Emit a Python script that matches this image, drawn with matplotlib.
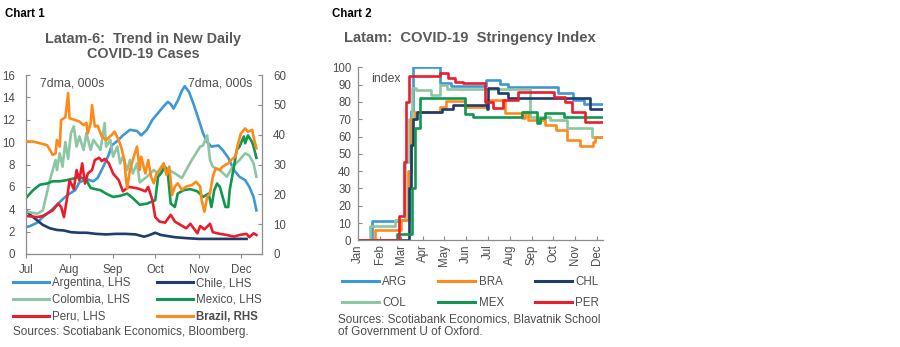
import matplotlib
matplotlib.use("Agg")
import matplotlib.pyplot as plt
from matplotlib.lines import Line2D

plt.rcParams['font.family'] = ['Liberation Sans', 'DejaVu Sans']

# ---------------- Chart 1 data (days since 1 Jul 2020, 7dma, 000s) ----------------
month_ticks_1 = [0, 31, 62, 92, 123, 153]
month_labels_1 = ["Jul", "Aug", "Sep", "Oct", "Nov", "Dec"]

arg_days = [0, 3, 8, 12, 17, 22, 27, 31, 35, 38, 43, 48, 51, 55, 59, 61, 65, 69, 74, 79,
            82, 86, 90, 94, 98, 101, 103, 105, 108, 111, 113, 116, 119, 123, 126, 129, 132,
            137, 140, 144, 148, 152, 156, 159, 162, 164]
arg_vals = [2.4, 2.5, 2.8, 3.3, 3.8, 4.4, 5.0, 5.4, 5.7, 6.4, 6.7, 6.5, 6.8, 7.8, 8.9, 9.7, 10.1, 10.6, 11.1, 11.0,
            10.6, 11.1, 12.0, 12.6, 13.2, 13.6, 13.4, 13.0, 13.7, 14.6, 15.0, 14.5, 13.5, 12.0, 10.8, 10.0, 9.6,
            9.7, 9.3, 8.6, 7.5, 6.9, 6.6, 6.0, 5.1, 3.9]

chl_days = [0, 3, 8, 12, 17, 22, 27, 32, 38, 43, 50, 57, 64, 71, 78, 84, 87, 90, 92, 96, 101, 106, 111, 116, 123, 157]
chl_vals = [3.9, 3.5, 3.0, 2.6, 2.3, 2.15, 2.1, 1.95, 1.9, 1.9, 1.8, 1.75, 1.8, 1.8, 1.75, 1.55, 1.65, 1.8, 1.9,
            1.7, 1.6, 1.5, 1.45, 1.4, 1.35, 1.35]

col_days = [0, 8, 12, 17, 19, 21, 22, 24, 26, 28, 30, 32, 34, 36, 38, 41, 43, 46, 48, 53, 56, 57, 60, 62, 65,
            67, 69, 72, 74, 76, 79, 81, 86, 91, 94, 98, 102, 106, 111, 114, 118, 121, 124, 126, 129, 131,
            133, 138, 143, 147, 152, 156, 159, 162, 164]
col_vals = [3.8, 3.6, 3.9, 6.6, 7.5, 8.4, 7.5, 9.0, 7.8, 10.0, 8.5, 10.8, 11.4, 9.6, 10.5, 9.3, 10.8, 9.3, 10.2,
            9.3, 11.7, 9.6, 10.2, 8.7, 9.6, 8.1, 8.7, 7.5, 8.4, 7.2, 8.1, 6.4, 6.9, 7.5, 7.2, 7.8, 7.5, 7.2,
            6.8, 7.5, 8.4, 9.0, 9.6, 9.7, 10.6, 8.4, 7.8, 7.5, 6.9, 7.8, 8.4, 9.0, 8.8, 8.1, 6.9]

mex_days = [0, 5, 10, 15, 19, 24, 29, 34, 38, 43, 46, 53, 57, 62, 67, 72, 76, 81, 86, 90, 92, 94, 96, 99, 101,
            103, 106, 108, 112, 117, 122, 126, 130, 132, 134, 136, 138, 140, 142, 144, 145, 148, 150, 152,
            155, 156, 158, 161, 162, 164]
mex_vals = [5.0, 5.7, 6.2, 6.3, 6.5, 6.5, 6.6, 6.75, 6.9, 6.6, 5.9, 5.7, 5.4, 5.1, 5.2, 5.4, 5.0, 4.4, 4.5, 4.7,
            4.8, 6.9, 7.2, 7.8, 7.2, 4.5, 4.2, 5.4, 5.7, 5.8, 5.6, 5.1, 5.4, 4.2, 5.7, 6.3, 6.0, 5.1, 4.2,
            4.2, 5.7, 7.8, 9.3, 9.6, 10.5, 9.9, 10.6, 10.0, 9.6, 8.6]

per_days = [0, 8, 12, 19, 23, 25, 27, 29, 31, 34, 36, 38, 40, 42, 44, 47, 49, 52, 54, 56, 59, 62, 66, 69, 73,
            78, 81, 85, 87, 90, 92, 95, 99, 103, 106, 110, 114, 117, 122, 124, 127, 131, 133, 138, 143,
            148, 152, 157, 159, 162, 164]
per_vals = [3.4, 3.3, 3.4, 3.9, 4.5, 4.2, 3.3, 4.8, 6.6, 5.8, 7.5, 6.6, 8.1, 6.3, 7.2, 7.5, 8.4, 8.6, 8.3, 8.5,
            8.1, 7.2, 6.6, 5.6, 6.0, 5.9, 5.8, 5.6, 6.0, 4.8, 3.3, 2.9, 2.8, 3.5, 2.9, 2.6, 2.3, 2.7, 1.85,
            2.5, 2.2, 2.7, 1.95, 1.8, 1.7, 1.55, 1.7, 1.8, 1.5, 1.85, 1.7]

bra_days = [0, 5, 10, 15, 17, 19, 21, 22, 24, 25, 28, 30, 31, 35, 38, 41, 43, 44, 46, 47, 49, 51, 54, 57, 61,
            63, 66, 68, 70, 71, 72, 74, 76, 79, 81, 82, 85, 87, 89, 91, 93, 95, 98, 100, 102, 104, 106,
            108, 111, 114, 118, 121, 124, 125, 127, 129, 131, 133, 135, 138, 140, 144, 146, 149, 151,
            153, 156, 158, 161, 162, 164]
bra_vals = [37.7, 37.7, 37.1, 36.5, 34.9, 33.2, 33.7, 38.2, 36.0, 44.9, 45.8, 53.9, 45.5, 44.9, 44.4, 43.2,
            44.0, 40.4, 43.8, 49.9, 42.7, 43.0, 39.3, 38.2, 39.9, 41.0, 38.2, 35.4, 31.5, 25.9, 22.0, 28.2,
            31.5, 36.0, 28.2, 32.6, 27.0, 31.5, 25.9, 23.7, 27.0, 28.2, 30.4, 26.5, 29.3, 19.8, 22.6, 23.7,
            21.5, 22.6, 23.1, 24.2, 22.6, 18.1, 14.2, 19.2, 20.3, 25.9, 28.7, 28.2, 29.3, 30.4, 31.5, 32.6,
            37.1, 40.4, 42.1, 41.0, 41.6, 39.3, 35.4]

# ---------------- Chart 2 data (days since 1 Jan 2020, stringency index) ----------------
month_ticks_2 = [0, 31, 60, 91, 121, 152, 182, 213, 244, 274, 305, 335]
month_labels_2 = ["Jan", "Feb", "Mar", "Apr", "May", "Jun", "Jul", "Aug", "Sep", "Oct", "Nov", "Dec"]

s_arg_days = [0, 19, 60, 72, 74, 77, 115, 131, 180, 199, 211, 281, 302, 318, 344]
s_arg_vals = [0, 11, 12, 40, 75, 100, 91, 89, 92.5, 90.5, 88.5, 85, 81, 79, 79]
s_bra_days = [0, 24, 61, 70, 74, 80, 115, 123, 150, 180, 207, 230, 234, 239, 263, 278, 294, 312, 330, 333, 344]
s_bra_vals = [0, 6, 12, 40, 70, 74, 77, 80.5, 77, 81, 73.5, 70.5, 74, 69.5, 66.5, 63.5, 58, 54.5, 57, 59.5, 59.5]
s_chl_days = [0, 71, 74, 77, 83, 118, 134, 181, 183, 196, 210, 326, 344]
s_chl_vals = [0, 30, 55, 70, 74, 76, 78, 76, 88, 85, 82, 76, 76]
s_col_days = [0, 17, 52, 66, 72, 76, 82, 102, 115, 125, 242, 270, 293, 328, 344]
s_col_vals = [0, 8.3, 12, 45, 70, 88, 87, 84, 90, 87.3, 71, 69.5, 65, 60, 60]
s_mex_days = [0, 55, 76, 80, 87, 150, 162, 230, 251, 256, 263, 289, 344]
s_mex_vals = [0, 3.6, 30, 65, 82.5, 73, 71.4, 74.3, 67.6, 70.5, 73.7, 71.4, 71.4]
s_per_days = [0, 57, 64, 68, 72, 115, 127, 136, 148, 179, 190, 203, 224, 275, 291, 300, 319, 344]
s_per_vals = [0, 14, 45, 80, 95, 96.5, 93.6, 91.7, 90.7, 80, 76.3, 81, 85.9, 83, 80, 74.3, 68.6, 68.6]

C_ARG = "#3D98D3"
C_CHL = "#1F3C6E"
C_COL = "#8CC6A2"
C_MEX = "#10984E"
C_PER = "#EA1D2C"
C_BRA = "#FF8A1C"
SPINE = "#8C8C8C"
TXT = "#4D4D4D"
TITLE = "#595959"

W, H = 900, 347
fig = plt.figure(figsize=(9.0, 3.47), dpi=100)


def fx(px):
    return px / W


def fy(py):
    return 1 - py / H


lw = 1.9

# ---------------- Chart 1 ----------------
ax1 = fig.add_axes([fx(26), fy(254), fx(262) - fx(26), fy(75) - fy(254)])
ax1.plot(arg_days, arg_vals, color=C_ARG, lw=lw, label="Argentina, LHS")
ax1.plot(chl_days, chl_vals, color=C_CHL, lw=lw, label="Chile, LHS")
ax1.plot(col_days, col_vals, color=C_COL, lw=lw, label="Colombia, LHS")
ax1.plot(mex_days, mex_vals, color=C_MEX, lw=lw, label="Mexico, LHS")
ax1.plot(per_days, per_vals, color=C_PER, lw=lw, label="Peru, LHS")
ax1.set_xlim(0, 168)
ax1.set_ylim(0, 16)
ax1.set_yticks(range(0, 17, 2))
ax1.set_xticks(month_ticks_1)
ax1.set_xticklabels(month_labels_1)

ax1r = ax1.twinx()
ax1r.plot(bra_days, bra_vals, color=C_BRA, lw=lw, label="Brazil, RHS")
ax1r.set_ylim(0, 60)
ax1r.set_yticks(range(0, 61, 10))

for a in (ax1, ax1r):
    a.set_facecolor("none")
    a.spines['top'].set_visible(False)
    for s in ('left', 'right', 'bottom'):
        a.spines[s].set_color(SPINE)
        a.spines[s].set_linewidth(0.9)
ax1r.spines['left'].set_visible(False)
ax1r.spines['bottom'].set_visible(False)
ax1.spines['right'].set_visible(False)
ax1.tick_params(axis='y', direction='in', length=3, color=SPINE, labelsize=8.3, labelcolor=TXT, pad=8)
ax1.tick_params(axis='x', direction='out', length=3, color=SPINE, labelsize=8.3, labelcolor=TXT, pad=4)
ax1r.tick_params(axis='y', direction='in', length=3, color=SPINE, labelsize=8.3, labelcolor=TXT, pad=8)

ax1.text(0.06, 0.985, "7dma, 000s", transform=ax1.transAxes, ha='left', va='top', fontsize=8.8, color=TXT)
ax1.text(0.96, 0.985, "7dma, 000s", transform=ax1.transAxes, ha='right', va='top', fontsize=8.8, color=TXT)

fig.text(fx(5), fy(14), "Chart 1", fontsize=8.3, fontweight='bold', color='black', va='center', ha='left')
fig.text(fx(143), fy(46.5), "Latam-6:  Trend in New Daily\nCOVID-19 Cases", fontsize=10.4, fontweight='bold',
         color=TITLE, ha='center', va='center', linespacing=1.1)

h1 = [Line2D([], [], color=C_ARG, lw=2.2), Line2D([], [], color=C_COL, lw=2.2), Line2D([], [], color=C_PER, lw=2.2),
      Line2D([], [], color=C_CHL, lw=2.2), Line2D([], [], color=C_MEX, lw=2.2), Line2D([], [], color=C_BRA, lw=2.2)]
l1 = ["Argentina, LHS", "Colombia, LHS", "Peru, LHS", "Chile, LHS", "Mexico, LHS", "Brazil, RHS"]
leg1 = fig.legend(h1, l1, ncol=2, loc='upper left', bbox_to_anchor=(fx(13), fy(277)), frameon=False,
                  fontsize=8.3, handlelength=3.1, handletextpad=0.3, columnspacing=2.3, labelspacing=0.42,
                  borderpad=0, borderaxespad=0)
for t in leg1.get_texts():
    t.set_color(TXT)
leg1.get_texts()[5].set_fontweight('bold')

fig.text(fx(13), fy(332), "Sources: Scotiabank Economics, Bloomberg.", fontsize=8.5, color=TXT, va='center', ha='left')

# ---------------- Chart 2 ----------------
ax2 = fig.add_axes([fx(358), fy(240.3), fx(603) - fx(358), fy(67.3) - fy(240.3)])
ax2.step(s_arg_days, s_arg_vals, where='post', color=C_ARG, lw=lw)
ax2.step(s_col_days, s_col_vals, where='post', color=C_COL, lw=lw)
ax2.step(s_bra_days, s_bra_vals, where='post', color=C_BRA, lw=lw)
ax2.step(s_chl_days, s_chl_vals, where='post', color=C_CHL, lw=lw)
ax2.step(s_mex_days, s_mex_vals, where='post', color=C_MEX, lw=lw)
ax2.step(s_per_days, s_per_vals, where='post', color=C_PER, lw=lw)
ax2.set_xlim(0, 344)
ax2.set_ylim(0, 100)
ax2.set_yticks(range(0, 101, 10))
ax2.set_xticks(month_ticks_2)
ax2.set_xticklabels(month_labels_2, rotation=90)
ax2.set_facecolor("none")
ax2.spines['top'].set_visible(False)
ax2.spines['right'].set_visible(False)
for s in ('left', 'bottom'):
    ax2.spines[s].set_color(SPINE)
    ax2.spines[s].set_linewidth(0.9)
ax2.tick_params(axis='y', direction='in', length=3, color=SPINE, labelsize=8.3, labelcolor=TXT, pad=5)
ax2.tick_params(axis='x', direction='in', length=3, color=SPINE, labelsize=8.3, labelcolor=TXT, pad=3)
ax2.text(0.055, 0.965, "index", transform=ax2.transAxes, ha='left', va='top', fontsize=8.8, color=TXT)

fig.text(fx(332), fy(14), "Chart 2", fontsize=8.3, fontweight='bold', color='black', va='center', ha='left')
fig.text(fx(470), fy(38), "Latam:  COVID-19  Stringency Index", fontsize=10.6, fontweight='bold',
         color=TITLE, ha='center', va='center')

h2 = [Line2D([], [], color=C_ARG, lw=2.2), Line2D([], [], color=C_COL, lw=2.2),
      Line2D([], [], color=C_BRA, lw=2.2), Line2D([], [], color=C_MEX, lw=2.2),
      Line2D([], [], color=C_CHL, lw=2.2), Line2D([], [], color=C_PER, lw=2.2)]
l2 = ["ARG", "COL", "BRA", "MEX", "CHL", "PER"]
leg2 = fig.legend(h2, l2, ncol=3, loc='upper left', bbox_to_anchor=(fx(342), fy(276)), frameon=False,
                  fontsize=8.3, handlelength=3.2, handletextpad=0.3, columnspacing=2.7, labelspacing=0.75,
                  borderpad=0, borderaxespad=0)
for t in leg2.get_texts():
    t.set_color(TXT)

fig.text(fx(338), fy(326), "Sources: Scotiabank Economics, Blavatnik School\nof Government U of Oxford.",
         fontsize=8.5, color=TXT, va='center', ha='left', linespacing=1.05)

fig.savefig("out.png", dpi=100)
